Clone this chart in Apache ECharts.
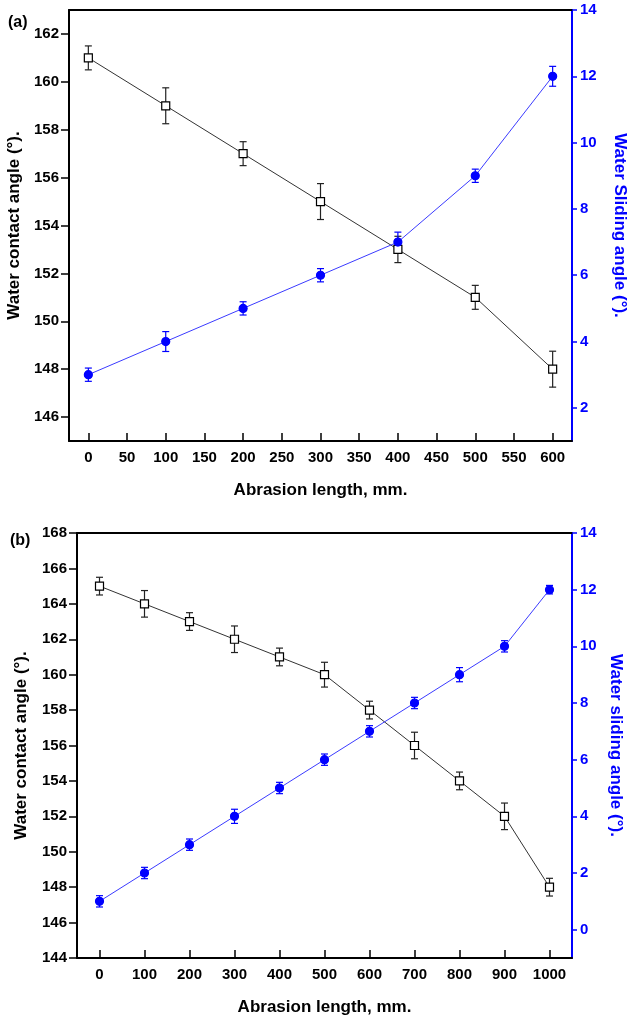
<!DOCTYPE html>
<html>
<head>
<meta charset="utf-8">
<script src="https://cdn.jsdelivr.net/npm/echarts@6/dist/echarts.min.js"></script>
<style>
html,body{margin:0;padding:0;background:#fff;}
#chart{width:629px;height:1017px;}
</style>
</head>
<body>
<div id="chart"></div>
<script>
// ---- Panel (a) data ----
var xA = [0, 100, 200, 300, 400, 500, 600];
var contactA = [161, 159, 157, 155, 153, 151, 148];
var contactErrA = [0.5, 0.75, 0.5, 0.75, 0.55, 0.5, 0.75];
var slidingA = [3, 4, 5, 6, 7, 9, 12];
var slidingErrA = [0.2, 0.3, 0.2, 0.2, 0.3, 0.2, 0.3];
var xTicksA = [0, 50, 100, 150, 200, 250, 300, 350, 400, 450, 500, 550, 600];
var leftTicksA = [146, 148, 150, 152, 154, 156, 158, 160, 162];
var rightTicksA = [2, 4, 6, 8, 10, 12, 14];

// ---- Panel (b) data ----
var xB = [0, 100, 200, 300, 400, 500, 600, 700, 800, 900, 1000];
var contactB = [165, 164, 163, 162, 161, 160, 158, 156, 154, 152, 148];
var contactErrB = [0.5, 0.75, 0.5, 0.75, 0.5, 0.7, 0.5, 0.75, 0.5, 0.75, 0.5];
var slidingB = [1, 2, 3, 4, 5, 6, 7, 8, 9, 10, 12];
var slidingErrB = [0.2, 0.2, 0.2, 0.25, 0.2, 0.2, 0.2, 0.2, 0.25, 0.2, 0.15];
var xTicksB = [0, 100, 200, 300, 400, 500, 600, 700, 800, 900, 1000];
var leftTicksB = [144, 146, 148, 150, 152, 154, 156, 158, 160, 162, 164, 166, 168];
var rightTicksB = [0, 2, 4, 6, 8, 10, 12, 14];

var FONT = 'Liberation Sans';
var BLUE = '#0000ff';

function pairs(xs, ys) { return xs.map(function (x, i) { return [x, ys[i]]; }); }
function errData(xs, ys, es) { return xs.map(function (x, i) { return [x, ys[i] - es[i], ys[i] + es[i]]; }); }
function plain(v) { return String(v); }

function errRender(color) {
  return function (params, api) {
    var x = api.value(0);
    var top = api.coord([x, api.value(2)]);
    var bot = api.coord([x, api.value(1)]);
    var hw = 3.5;
    var st = { stroke: color, lineWidth: 1.2 };
    return {
      type: 'group',
      children: [
        { type: 'line', shape: { x1: top[0], y1: top[1], x2: bot[0], y2: bot[1] }, style: st },
        { type: 'line', shape: { x1: top[0] - hw, y1: top[1], x2: top[0] + hw, y2: top[1] }, style: st },
        { type: 'line', shape: { x1: bot[0] - hw, y1: bot[1], x2: bot[0] + hw, y2: bot[1] }, style: st }
      ]
    };
  };
}

function xAxisBottom(gi, min, max, ticks, gap) {
  return {
    type: 'value', gridIndex: gi, position: 'bottom', min: min, max: max,
    name: 'Abrasion length, mm.', nameLocation: 'middle', nameGap: gap,
    nameTextStyle: { fontFamily: FONT, fontWeight: 'bold', fontSize: 17, color: '#000' },
    axisLine: { show: true, onZero: false, lineStyle: { color: '#000', width: 2 } },
    axisTick: { show: true, inside: true, length: 8, customValues: ticks, lineStyle: { color: '#000', width: 1.5 } },
    axisLabel: { show: true, margin: 9, customValues: ticks, formatter: plain, fontFamily: FONT, fontWeight: 'bold', fontSize: 15, color: '#000' },
    splitLine: { show: false }
  };
}
function xAxisTop(gi, min, max) {
  return {
    type: 'value', gridIndex: gi, position: 'top', min: min, max: max,
    axisLine: { show: true, onZero: false, lineStyle: { color: '#000', width: 2 } },
    axisTick: { show: false }, axisLabel: { show: false }, splitLine: { show: false }
  };
}
function yAxisLeft(gi, min, max, ticks, gap) {
  return {
    type: 'value', gridIndex: gi, position: 'left', min: min, max: max,
    name: 'Water contact angle (°).', nameLocation: 'middle', nameGap: gap, nameRotate: 90,
    nameTextStyle: { fontFamily: FONT, fontWeight: 'bold', fontSize: 17, color: '#000' },
    axisLine: { show: true, onZero: false, lineStyle: { color: '#000', width: 2 } },
    axisTick: { show: true, inside: false, length: 8, customValues: ticks, lineStyle: { color: '#000', width: 1.5 } },
    axisLabel: { show: true, margin: 10, customValues: ticks, formatter: plain, fontFamily: FONT, fontWeight: 'bold', fontSize: 15, color: '#000' },
    splitLine: { show: false }
  };
}
function yAxisRight(gi, min, max, ticks, name, gap) {
  return {
    type: 'value', gridIndex: gi, position: 'right', min: min, max: max,
    name: name, nameLocation: 'middle', nameGap: gap, nameRotate: -90,
    nameTextStyle: { fontFamily: FONT, fontWeight: 'bold', fontSize: 17, color: BLUE },
    axisLine: { show: true, onZero: false, lineStyle: { color: BLUE, width: 2 } },
    axisTick: { show: true, inside: false, length: 5, customValues: ticks, lineStyle: { color: BLUE, width: 1.5 } },
    axisLabel: { show: true, margin: 8, customValues: ticks, formatter: plain, fontFamily: FONT, fontWeight: 'bold', fontSize: 15, color: BLUE },
    splitLine: { show: false }
  };
}

function lineSeries(xi, yi, data, color, symbol, fill, lineColor) {
  return {
    type: 'line', xAxisIndex: xi, yAxisIndex: yi, data: data, z: 3,
    symbol: symbol, symbolSize: 8, showAllSymbol: true,
    lineStyle: { color: lineColor, width: 1 },
    itemStyle: { color: fill, borderColor: color, borderWidth: 1.2 },
    animation: false
  };
}
function errSeries(xi, yi, data, color) {
  return {
    type: 'custom', xAxisIndex: xi, yAxisIndex: yi, data: data, z: 2,
    encode: { x: 0, y: [1, 2] }, renderItem: errRender(color), animation: false
  };
}

var chart = echarts.init(document.getElementById('chart'), null, { renderer: 'canvas' });
chart.setOption({
  animation: false,
  backgroundColor: '#fff',
  title: [
    { text: '(a)', left: 3, top: 10, textStyle: { fontFamily: FONT, fontWeight: 'bold', fontSize: 16, color: '#000' } },
    { text: '(b)', left: 5, top: 528, textStyle: { fontFamily: FONT, fontWeight: 'bold', fontSize: 16, color: '#000' } }
  ],
  grid: [
    { left: 69, top: 10, width: 503, height: 431, containLabel: false, outerBoundsMode: 'none' },
    { left: 77, top: 533, width: 495, height: 425, containLabel: false, outerBoundsMode: 'none' }
  ],
  xAxis: [
    xAxisBottom(0, -25, 625, xTicksA, 41),
    xAxisTop(0, -25, 625),
    xAxisBottom(1, -50, 1050, xTicksB, 41),
    xAxisTop(1, -50, 1050)
  ],
  yAxis: [
    yAxisLeft(0, 145, 163, leftTicksA, 46),
    yAxisRight(0, 1, 14, rightTicksA, 'Water Sliding angle (°).', 39),
    yAxisLeft(1, 144, 168, leftTicksB, 47),
    yAxisRight(1, -1, 14, rightTicksB, 'Water sliding angle (°).', 34)
  ],
  series: [
    errSeries(0, 0, errData(xA, contactA, contactErrA), '#222'),
    lineSeries(0, 0, pairs(xA, contactA), '#000', 'rect', '#fff', '#333'),
    errSeries(0, 1, errData(xA, slidingA, slidingErrA), BLUE),
    lineSeries(0, 1, pairs(xA, slidingA), BLUE, 'circle', BLUE, '#3b3bff'),
    errSeries(2, 2, errData(xB, contactB, contactErrB), '#222'),
    lineSeries(2, 2, pairs(xB, contactB), '#000', 'rect', '#fff', '#333'),
    errSeries(2, 3, errData(xB, slidingB, slidingErrB), BLUE),
    lineSeries(2, 3, pairs(xB, slidingB), BLUE, 'circle', BLUE, '#3b3bff')
  ]
});
</script>
</body>
</html>
